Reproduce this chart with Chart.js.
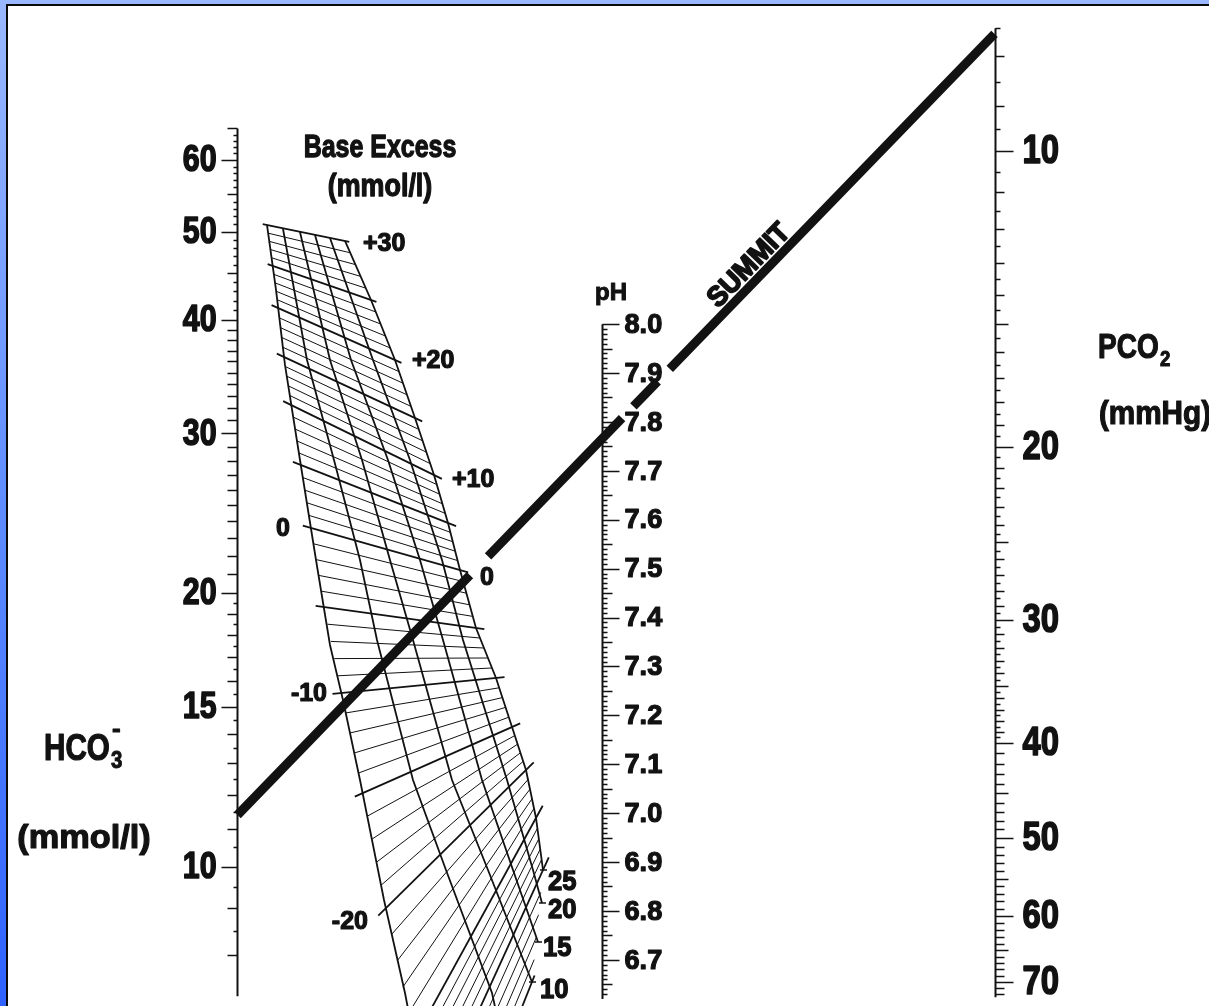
<!DOCTYPE html>
<html>
<head>
<meta charset="utf-8">
<script src="https://cdn.jsdelivr.net/npm/chart.js@4.4.1/dist/chart.umd.min.js"></script>
<style>
  html, body { margin: 0; padding: 0; }
  body {
    width: 1209px; height: 1006px; overflow: hidden; position: relative;
    background: linear-gradient(to bottom, #9ab8ff 0%, #5f8dff 50%, #2f62ff 100%);
  }
  #frame {
    position: absolute; left: 6px; top: 4px; width: 1203px; height: 1002px;
    box-sizing: border-box; background: #fff;
    border-left: 2px solid #0a0a0a; border-top: 2px solid #0a0a0a;
  }
  #chart { display: block; }
</style>
</head>
<body>
<div id="frame"><canvas id="chart" width="1201" height="1000"></canvas></div>
<script>
// scale labels
const hco3Labels = [10, 15, 20, 30, 40, 50, 60];
const phLabels = [6.7, 6.8, 6.9, 7.0, 7.1, 7.2, 7.3, 7.4, 7.5, 7.6, 7.7, 7.8, 7.9, 8.0];
const pco2Labels = [10, 20, 30, 40, 50, 60, 70];
const hco3Range = [7.2, 65];
const phRange = [6.62, 8.0];
const pco2Range = [7.5, 72.6];

// SUMMIT line, read where it meets the HCO3 and PCO2 scales
const summitHco3 = 11.4;
const summitPco2 = 7.6;

// base excess grid: points are [u, level on the pH scale], u = 0 at the HCO3 scale, 1 at the pH scale
const hbLevels = [0, 5, 10, 15, 20, 25];
const hbLines = [
  [[0.0808, 8.2028], [0.1055, 8.0699], [0.1301, 7.9165], [0.1712, 7.7222], [0.2151, 7.5177], [0.2534, 7.3439],
   [0.2890, 7.2314], [0.3356, 7.0678], [0.4014, 6.8224], [0.4589, 6.6322], [0.4836, 6.5361]],
  [[0.1247, 8.1946], [0.1904, 7.9267], [0.2644, 7.7222], [0.3356, 7.5177], [0.3822, 7.3541], [0.4808, 7.0678],
   [0.5712, 6.8838], [0.6973, 6.6322], [0.7192, 6.5566]],
  [[0.1712, 8.1885], [0.2534, 7.9267], [0.3411, 7.7222], [0.4178, 7.5177], [0.4808, 7.3541], [0.5877, 7.0678],
   [0.6863, 6.8838], [0.8068, 6.6547]],
  [[0.2123, 8.1823], [0.3110, 7.9267], [0.4123, 7.7222], [0.5000, 7.5177], [0.5630, 7.3541], [0.6699, 7.0678],
   [0.7548, 6.8838], [0.8233, 6.7365]],
  [[0.2534, 8.1762], [0.3712, 7.9267], [0.4726, 7.7222], [0.5603, 7.5177], [0.6178, 7.3541], [0.7384, 7.0678],
   [0.8096, 6.8838], [0.8342, 6.8163]],
  [[0.2945, 8.1701], [0.3658, 8.0494], [0.4315, 7.9267], [0.4863, 7.8081], [0.5384, 7.6915], [0.5767, 7.5934],
   [0.6096, 7.4973], [0.6534, 7.3786], [0.7082, 7.2764], [0.7521, 7.1762], [0.7904, 7.0883], [0.8178, 6.9901],
   [0.8370, 6.8838]]
];
const beMajor = [30, 25, 20, 15, 10, 5, 0, -5, -10, -15, -20, -25, -30, -35];
const beLeft = [
  [0.0808, 8.2028], [0.0973, 8.1189], [0.1110, 8.0330], [0.1274, 7.9328], [0.1466, 7.8347], [0.1740, 7.7120],
  [0.2014, 7.5831], [0.2370, 7.4216], [0.2836, 7.2457], [0.3438, 7.0412], [0.4068, 6.8060], [0.4836, 6.5361],
  [0.5493, 6.4134], [0.6781, 6.4134]
];
const beRight = [
  [0.2945, 8.1701], [0.3658, 8.0494], [0.4315, 7.9267], [0.4863, 7.8081], [0.5384, 7.6915], [0.5767, 7.5934],
  [0.6096, 7.4973], [0.6534, 7.3786], [0.7082, 7.2764], [0.7521, 7.1762], [0.7904, 7.0883], [0.8178, 6.9901],
  [0.8370, 6.8838], [0.8068, 6.6547]
];
const beLabels = [30, 20, 10, 0, -10, -20];
const hbLabels = [25, 20, 15, 10];

// where the pH and PCO2 scales stand, in u
const U_PH = 1;
const U_PCO2 = 2.074;

const FONT = "'Liberation Sans', Arimo, 'DejaVu Sans', sans-serif";
const INK = '#121212';

function lerp(a, b, f) {
  return [a[0] + (b[0] - a[0]) * f, a[1] + (b[1] - a[1]) * f];
}
const pts = arr => arr.map(([u, p]) => ({x: u, y: p}));

// grid datasets
const datasets = [];
hbLines.forEach((line, i) => {
  datasets.push({
    label: 'Hb ' + hbLevels[i], data: pts(line), yAxisID: 'ph',
    showLine: true, borderColor: INK, borderWidth: 1.8, pointRadius: 0
  });
});
beMajor.forEach((be, i) => {
  const steps = i < beMajor.length - 1 ? be - beMajor[i + 1] : 1;
  for (let s = 0; s < steps; s++) {
    let L = s ? lerp(beLeft[i], beLeft[i + 1], s / steps) : beLeft[i];
    let R = s ? lerp(beRight[i], beRight[i + 1], s / steps) : beRight[i];
    if (!s) { [L, R] = [lerp(L, R, -0.055), lerp(L, R, 1.055)]; }
    datasets.push({
      label: 'BE ' + (be - s), data: pts([L, R]), yAxisID: 'ph',
      showLine: true, borderColor: INK, borderWidth: s ? 1 : 1.8, pointRadius: 0
    });
  }
});

function text(ctx, s, x, y, size, align, sx, baseline, weight) {
  ctx.save();
  ctx.font = `bold ${size}px ${FONT}`;
  ctx.textAlign = align || 'left';
  ctx.textBaseline = baseline || 'middle';
  ctx.lineJoin = 'round';
  ctx.lineWidth = weight === undefined ? 1 : weight;
  ctx.translate(x, y);
  ctx.scale(sx || 1, 1);
  ctx.fillText(s, 0, 0);
  if (ctx.lineWidth > 0) ctx.strokeText(s, 0, 0);
  ctx.restore();
}

function graduate(ctx, px, scale, range, marks, dir) {
  ctx.lineWidth = 2;
  ctx.beginPath();
  ctx.moveTo(px, scale.getPixelForValue(range[0]));
  ctx.lineTo(px, scale.getPixelForValue(range[1]));
  ctx.stroke();
  ctx.lineWidth = 1.5;
  ctx.beginPath();
  marks.forEach(([v, len]) => {
    const y = Math.round(scale.getPixelForValue(v)) + 0.5;
    ctx.moveTo(px, y);
    ctx.lineTo(px + dir * len, y);
  });
  ctx.stroke();
}

function hco3Marks() {
  const m = [];
  for (let k = 16; k <= 130; k++) {
    const v = k / 2;
    let len = 0;
    if (hco3Labels.includes(v)) len = 16;
    else if (Number.isInteger(v) && (v <= 40 || v % 5 === 0)) len = 10;
    else if (Number.isInteger(v) || v < 20) len = 4;
    if (len) m.push([v, len]);
  }
  return m;
}
function phMarks() {
  const m = [];
  for (let k = 663; k <= 800; k++) m.push([k / 100, k % 10 === 0 ? 17 : k % 5 === 0 ? 10 : 5]);
  return m;
}
function pco2Marks() {
  const m = [];
  for (let k = 15; k <= 144; k++) {
    const v = k / 2;
    let len = 0;
    if (v % 10 === 0) len = 18;
    else if (v % 5 === 0) len = 13;
    else if (Number.isInteger(v)) len = 9;
    else if (v < 40) len = 5;
    if (len) m.push([v, len]);
  }
  return m;
}

const nomogram = {
  id: 'nomogram',
  afterDatasetsDraw(chart) {
    const {ctx, scales: {x, hco3, ph, pco2}} = chart;
    const ax = Math.round(x.getPixelForValue(0)) + 0.5;
    const px = Math.round(x.getPixelForValue(U_PH)) + 0.5;
    const cx = Math.round(x.getPixelForValue(U_PCO2)) + 0.5;
    ctx.save();
    ctx.strokeStyle = INK;
    ctx.fillStyle = INK;

    // the three scales
    graduate(ctx, ax, hco3, hco3Range, hco3Marks(), -1);
    graduate(ctx, px, ph, phRange, phMarks(), 1);
    graduate(ctx, cx, pco2, pco2Range, pco2Marks(), 1);
    hco3Labels.forEach(v => text(ctx, String(v), ax - 21, hco3.getPixelForValue(v) + 1, 37, 'right', 0.82, 'middle', 1.6));
    phLabels.forEach(v => text(ctx, v.toFixed(1), px + 22, ph.getPixelForValue(v) + 1, 28, 'left', 0.97, 'middle', 1.2));
    pco2Labels.forEach(v => text(ctx, String(v), cx + 27, pco2.getPixelForValue(v) + 1, 40, 'left', 0.82, 'middle', 1.6));

    // grid labels
    const toPx = ([u, p]) => [x.getPixelForValue(u), ph.getPixelForValue(p)];
    const beNudge = {
      '30': [[18, 3, 'right']], '20': [[17, 1, 'right']], '10': [[18, 5, 'right']],
      '0': [[20, 8, 'right'], [-21, 1, 'left']], '-10': [[-14, 1, 'left']], '-20': [[-18, 14, 'left']]
    };
    beLabels.forEach(be => {
      const i = beMajor.indexOf(be);
      beNudge[String(be)].forEach(([dx, dy, side]) => {
        const [ex, ey] = toPx(side === 'right' ? beRight[i] : beLeft[i]);
        const s = be > 0 ? '+' + be : String(be);
        text(ctx, s, ex + dx, ey + dy, 25, side === 'right' ? 'left' : 'right', 1, 'middle', 1.2);
      });
    });
    const hbNudge = {'25': [5, 13], '20': [6, 8], '15': [5, 7], '10': [8, 9]};
    ctx.lineWidth = 1.5;
    hbLabels.forEach(hb => {
      const line = hbLines[hbLevels.indexOf(hb)];
      const [ex, ey] = toPx(line[line.length - 1]);
      ctx.beginPath();
      ctx.moveTo(ex - 3, ey);
      ctx.lineTo(ex + 4, ey);
      ctx.stroke();
      const [dx, dy] = hbNudge[String(hb)];
      text(ctx, String(hb), ex + dx, ey + dy, 27, 'left', 0.95, 'middle', 1.3);
    });

    // SUMMIT line, broken around the labels
    const xa = x.getPixelForValue(0), ya = hco3.getPixelForValue(summitHco3);
    const xb = x.getPixelForValue(U_PCO2), yb = pco2.getPixelForValue(summitPco2);
    ctx.lineWidth = 9;
    ctx.lineCap = 'butt';
    [[0, 0.307], [0.331, 0.508], [0.523, 0.555], [0.571, 1]].forEach(([a, b]) => {
      ctx.beginPath();
      ctx.moveTo(xa + (xb - xa) * a, ya + (yb - ya) * a);
      ctx.lineTo(xa + (xb - xa) * b, ya + (yb - ya) * b);
      ctx.stroke();
    });
    const len = Math.hypot(xb - xa, yb - ya);
    const nx = (yb - ya) / len, ny = -(xb - xa) / len;
    const t = 0.69;
    ctx.save();
    ctx.translate(xa + (xb - xa) * t + nx * 7, ya + (yb - ya) * t + ny * 7);
    ctx.rotate(Math.atan2(yb - ya, xb - xa));
    text(ctx, 'SUMMIT', 0, 0, 28, 'center', 0.95, 'alphabetic', 1.8);
    ctx.restore();

    // titles
    text(ctx, 'Base Excess', 372, 142, 32, 'center', 0.78, 'middle', 1.3);
    text(ctx, '(mmol/l)', 372, 181, 32, 'center', 0.84, 'middle', 1.3);
    text(ctx, 'pH', 603, 287, 24, 'center', 1, 'middle', 1);
    text(ctx, 'HCO', 36, 754, 37, 'left', 0.8, 'alphabetic', 1.2);
    text(ctx, '3', 103, 762, 24, 'left', 0.85, 'alphabetic', 1);
    text(ctx, '-', 104, 731, 26, 'left', 1, 'alphabetic', 1);
    text(ctx, '(mmol/l)', 76, 833, 33, 'center', 1.04, 'middle', 1.2);
    text(ctx, 'PCO', 1090, 352, 35, 'left', 0.8, 'alphabetic', 1.2);
    text(ctx, '2', 1152, 360, 22, 'left', 0.85, 'alphabetic', 1);
    text(ctx, '(mmHg)', 1147, 409, 33, 'center', 0.9, 'middle', 1.2);
    ctx.restore();
  }
};

new Chart(document.getElementById('chart'), {
  type: 'scatter',
  data: {datasets},
  options: {
    responsive: false,
    animation: false,
    devicePixelRatio: 1,
    events: [],
    layout: {padding: 0},
    plugins: {legend: {display: false}, tooltip: {enabled: false}},
    scales: {
      x: {type: 'linear', min: -0.628767, max: 2.661644, display: false},
      ph: {type: 'linear', axis: 'y', min: 6.60562, max: 8.65061, display: false},
      hco3: {type: 'logarithmic', axis: 'y', min: 7.024, max: 88.66, display: false},
      pco2: {type: 'logarithmic', axis: 'y', min: 7.1198, max: 74.09, reverse: true, display: false}
    }
  },
  plugins: [nomogram]
});
</script>
</body>
</html>
